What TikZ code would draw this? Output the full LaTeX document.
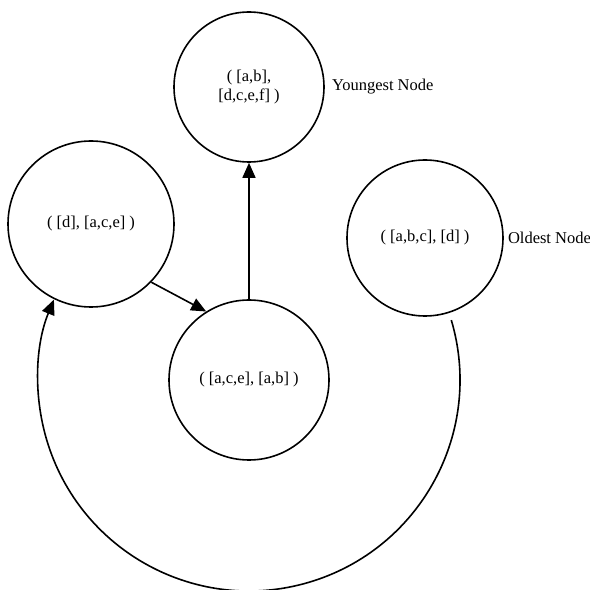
\documentclass[tikz,border=0pt]{standalone}
\usepackage{fontspec}
\setmainfont{Liberation Serif}
\usetikzlibrary{arrows.meta}
\begin{document}
\begin{tikzpicture}[x=1pt,y=1pt,
  state/.style={circle,draw,line width=1.6pt,inner sep=0pt,font=\fontsize{16.5}{19}\selectfont,align=center},
  lbl/.style={anchor=west,inner sep=0pt,font=\fontsize{16.5}{19}\selectfont},
  arr/.style={line width=1.6pt,-{Triangle[length=15pt,width=13pt]}}]
\useasboundingbox (0,0) rectangle (590,590);
\node[state,minimum size=150] (young) at (249,503) {( [a,b],\\ \relax [d,c,e,f] )};
\node[state,minimum size=166] (left) at (91,366) {( [d], [a,c,e] )};
\node[state,minimum size=160] (mid) at (249,210) {( [a,c,e], [a,b] )};
\node[state,minimum size=156] (old) at (425,352) {( [a,b,c], [d] )};
\node[lbl] (younglbl) at ([xshift=7pt]young.east) {Youngest Node};
\node[lbl] (oldlbl) at ([xshift=4pt]old.east) {Oldest Node};
\draw[arr] (left.-44) -- (mid.122);
\draw[arr] (mid.north) -- (young.south);
\coordinate (arcstart) at ([shift={(16.5:211)}]mid.center);
\draw[arr] (arcstart) arc[start angle=16.5,end angle=-202.4,radius=211];
\end{tikzpicture}
\end{document}
